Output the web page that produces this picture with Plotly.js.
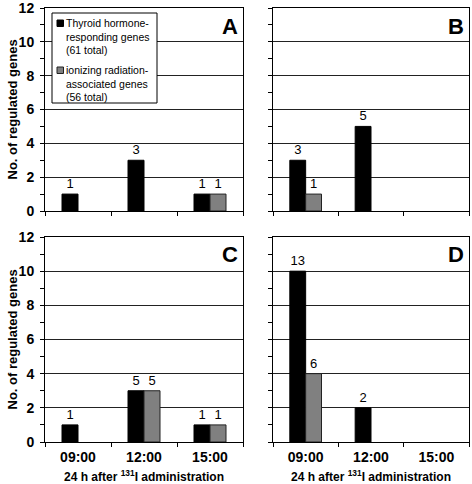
<!DOCTYPE html>
<html>
<head>
<meta charset="utf-8">
<script src="https://cdn.plot.ly/plotly-3.0.1.min.js"></script>
<style>html,body{margin:0;padding:0;background:#fff;}</style>
</head>
<body>
<div id="chart" style="width:472px;height:484px;"></div>
<script>
// ---- data ----
const categories = ['09:00', '12:00', '15:00'];
const panelLetters = ['A', 'B', 'C', 'D'];
const seriesNames = ['Thyroid hormone-<br>responding genes<br>(61 total)',
                     'ionizing radiation-<br>associated genes<br>(56 total)'];
// bar heights as drawn
const thyroidA = [1, 3, 1];
const thyroidB = [3, 5, null];
const thyroidC = [1, 3, 1];
const thyroidD = [10, 2, null];
const radiationA = [null, null, 1];
const radiationB = [1, null, null];
const radiationC = [null, 3, 1];
const radiationD = [4, null, null];
// printed labels above bars
const thyroidLabelsA = [1, 3, 1];
const thyroidLabelsB = [3, 5, null];
const thyroidLabelsC = [1, 5, 1];
const thyroidLabelsD = [13, 2, null];
const radiationLabelsA = [null, null, 1];
const radiationLabelsB = [1, null, null];
const radiationLabelsC = [null, 5, 1];
const radiationLabelsD = [6, null, null];
const yTickVals = [0, 2, 4, 6, 8, 10, 12];
const yTitle = 'No. of regulated genes';
const xTitle = '24 h after <sup>131</sup>I administration';

// ---- layout helpers ----
const W = 472, H = 484;
const FONT = '"Liberation Sans", Arial, sans-serif';
const px = v => v / W;
const py = v => 1 - v / H;

const thyroid = [thyroidA, thyroidB, thyroidC, thyroidD];
const radiation = [radiationA, radiationB, radiationC, radiationD];
const thyroidLabels = [thyroidLabelsA, thyroidLabelsB, thyroidLabelsC, thyroidLabelsD];
const radiationLabels = [radiationLabelsA, radiationLabelsB, radiationLabelsC, radiationLabelsD];

const colX = [[45, 243], [273, 469]];
const rowY = [[8, 211], [237, 442]];

const traces = [];
const layout = {
  width: W, height: H,
  margin: {l: 0, r: 0, t: 0, b: 0},
  paper_bgcolor: '#fff', plot_bgcolor: '#fff',
  showlegend: false,
  barmode: 'group', bargap: 0.515, bargroupgap: 0,
  font: {family: FONT, color: '#000'},
  shapes: [], annotations: []
};

const lbl = arr => arr.map(v => v === null ? '' : String(v));
const labelFont = {family: FONT, size: 13, color: '#000000'};

for (let i = 0; i < 4; i++) {
  const col = i % 2, row = Math.floor(i / 2);
  const sfx = i === 0 ? '' : String(i + 1);
  const xa = 'x' + sfx, ya = 'y' + sfx;
  const common = {type: 'bar', x: categories, xaxis: xa, yaxis: ya,
    textposition: 'outside', cliponaxis: false,
    textfont: labelFont, outsidetextfont: labelFont, hoverinfo: 'skip'};
  traces.push(Object.assign({}, common, {name: seriesNames[0], y: thyroid[i],
    text: lbl(thyroidLabels[i]), marker: {color: '#000000', line: {color: '#000', width: 1}}}));
  traces.push(Object.assign({}, common, {name: seriesNames[1], y: radiation[i],
    text: lbl(radiationLabels[i]), marker: {color: '#808080', line: {color: '#222', width: 1}}}));

  layout['xaxis' + sfx] = {
    domain: [px(colX[col][0]), px(colX[col][1])], anchor: ya,
    type: 'category', range: [-0.5, 2.5],
    showline: true, mirror: true, linecolor: '#000', linewidth: 1,
    ticks: 'outside', tickson: 'boundaries', ticklen: 4, tickcolor: '#000',
    showgrid: false, zeroline: false,
    showticklabels: row === 1, ticklabelstandoff: 2,
    tickfont: {family: FONT, size: 14, color: '#000', weight: 'bold'},
    fixedrange: true
  };
  layout['yaxis' + sfx] = {
    domain: [py(rowY[row][1]), py(rowY[row][0])], anchor: xa,
    range: [0, 12], tickvals: yTickVals,
    showline: true, mirror: true, linecolor: '#000', linewidth: 1,
    showgrid: true, gridcolor: '#222', gridwidth: 1, zeroline: false,
    ticks: 'outside', ticklen: 4, tickcolor: '#000',
    minor: {dtick: 1, ticks: 'outside', ticklen: 4, tickcolor: '#000', showgrid: false},
    showticklabels: col === 0, ticklabelstandoff: 3, ticklabeloverflow: 'allow',
    tickfont: {family: FONT, size: 14, color: '#000', weight: 'bold'},
    fixedrange: true
  };

  // panel letter
  layout.annotations.push({xref: 'paper', yref: 'paper',
    x: px(colX[col][1] - 3), y: py(rowY[row][0] + 18),
    xanchor: 'right', yanchor: 'middle', showarrow: false,
    text: panelLetters[i], font: {family: FONT, size: 22, color: '#000', weight: 'bold'}});

  if (col === 0) {
    layout.annotations.push({xref: 'paper', yref: 'paper',
      x: px(12), y: py((rowY[row][0] + rowY[row][1]) / 2),
      xanchor: 'center', yanchor: 'middle', textangle: -90, showarrow: false,
      text: yTitle, font: {family: FONT, size: 13, color: '#000', weight: 'bold'}});
  }
  if (row === 1) {
    layout.annotations.push({xref: 'paper', yref: 'paper',
      x: px((colX[col][0] + colX[col][1]) / 2), y: py(476),
      xanchor: 'center', yanchor: 'middle', showarrow: false,
      text: xTitle, font: {family: FONT, size: 12, color: '#000', weight: 'bold'}});
  }
}

// legend box in panel A
layout.shapes.push({type: 'rect', xref: 'paper', yref: 'paper', layer: 'above',
  x0: px(52), x1: px(157), y0: py(103), y1: py(13),
  fillcolor: '#fff', line: {color: '#000', width: 1}});
layout.shapes.push({type: 'rect', xref: 'paper', yref: 'paper', layer: 'above',
  x0: px(57), x1: px(63.5), y0: py(26.5), y1: py(20),
  fillcolor: '#000', line: {color: '#000', width: 1}});
layout.shapes.push({type: 'rect', xref: 'paper', yref: 'paper', layer: 'above',
  x0: px(57), x1: px(63.5), y0: py(73.5), y1: py(67),
  fillcolor: '#808080', line: {color: '#222', width: 1}});
layout.annotations.push({xref: 'paper', yref: 'paper', x: px(64), y: py(15),
  xanchor: 'left', yanchor: 'top', align: 'left', showarrow: false,
  text: seriesNames[0], font: {family: FONT, size: 10.5, color: '#000'}});
layout.annotations.push({xref: 'paper', yref: 'paper', x: px(64), y: py(62),
  xanchor: 'left', yanchor: 'top', align: 'left', showarrow: false,
  text: seriesNames[1], font: {family: FONT, size: 10.5, color: '#000'}});

Plotly.newPlot('chart', traces, layout, {staticPlot: true, displayModeBar: false});
</script>
</body>
</html>
